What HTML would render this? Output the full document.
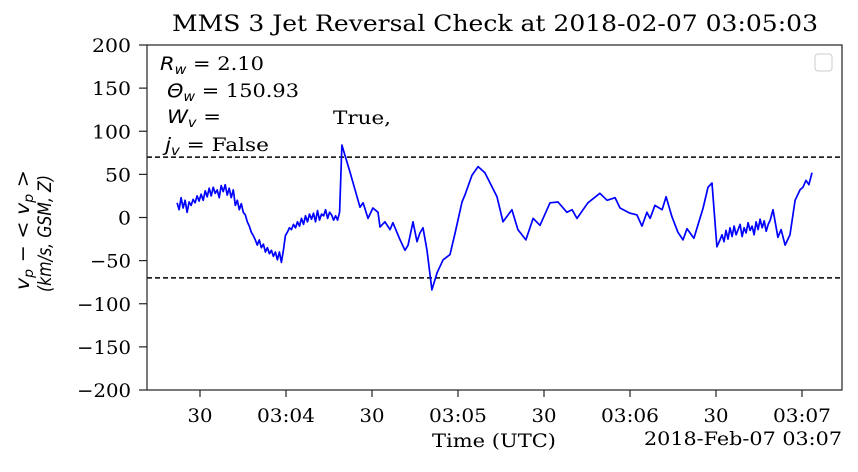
<!DOCTYPE html>
<html><head><meta charset="utf-8"><style>
html,body{margin:0;padding:0;background:#fff;}
svg text{font-family:"DejaVu Serif","Liberation Serif",serif;fill:#000;}
.m{font-family:"DejaVu Sans","Liberation Sans",sans-serif;font-style:italic;}
</style></head><body>
<svg id="chart" width="858" height="467" viewBox="0 0 858 467" xmlns="http://www.w3.org/2000/svg">
<text x="172" y="31" font-size="22" textLength="646" lengthAdjust="spacingAndGlyphs">MMS 3 Jet Reversal Check at 2018-02-07 03:05:03</text>
<g id="axes"></g>
<g id="series"></g>
<rect x="147" y="45" width="695" height="345" fill="none" stroke="#222" stroke-width="1.2"/>
<rect x="815" y="54" width="17" height="17" rx="3" fill="#fff" stroke="#ccc"/>
<g font-size="19">
<text x="160" y="70" textLength="104" lengthAdjust="spacingAndGlyphs"><tspan class="m">R</tspan><tspan class="m" font-size="13" dy="4">w</tspan><tspan dy="-4"> = 2.10</tspan></text>
<text x="167" y="97" textLength="132" lengthAdjust="spacingAndGlyphs"><tspan class="m" font-style="normal">Θ</tspan><tspan class="m" font-size="13" dy="4">w</tspan><tspan dy="-4"> = 150.93</tspan></text>
<text x="167" y="123" textLength="54" lengthAdjust="spacingAndGlyphs"><tspan class="m">W</tspan><tspan class="m" font-size="13" dy="4">v</tspan><tspan dy="-4"> =</tspan></text>
<text x="333" y="124" textLength="58" lengthAdjust="spacingAndGlyphs">True,</text>
<text x="165" y="151" textLength="104" lengthAdjust="spacingAndGlyphs"><tspan class="m">j</tspan><tspan class="m" font-size="13" dy="4">v</tspan><tspan dy="-4"> = False</tspan></text>
</g>
<text x="432" y="447" font-size="19" textLength="124" lengthAdjust="spacingAndGlyphs">Time (UTC)</text>
<text x="644" y="445" font-size="19" textLength="198" lengthAdjust="spacingAndGlyphs">2018-Feb-07 03:07</text>
<g transform="translate(29,230) rotate(-90)" font-size="19">
<text x="-60" y="0" textLength="120" lengthAdjust="spacingAndGlyphs" class="m">v<tspan font-size="13" dy="4">p</tspan><tspan dy="-4"> − &lt; v</tspan><tspan font-size="13" dy="4">p</tspan><tspan dy="-4"> &gt;</tspan></text>
<text x="-62" y="22" textLength="117" lengthAdjust="spacingAndGlyphs" class="m">(km/s, GSM, Z)</text>
</g>
</svg>
<script>
const yTicks=[200,150,100,50,0,-50,-100,-150,-200];
const xTickTimes=[30,60,90,120,150,180,210,240];
const xTickLabels=["30","03:04","30","03:05","30","03:06","30","03:07"];
const thresholds=[70,-70];
const noisyT1=[22.0,22.7,23.4,24.1,24.8,25.5,26.2,26.9,27.6,28.3,29.0,29.7,30.4,31.1,31.8,32.5,33.2,33.9,34.6,35.3,36.0,36.7,37.4,38.1,38.8,39.5,40.2,40.9,41.6,42.3,43.0,43.7,44.4,45.1,45.8,46.5,47.2,47.9,48.6,49.3,50.0,50.7,51.4,52.1,52.8,53.5,54.2,54.9,55.6,56.3,57.0,57.7,58.4,59.1,59.8,60.5,61.2,61.9,62.6,63.3,64.0,64.7,65.4,66.1,66.8,67.5,68.2,68.9,69.6,70.3,71.0,71.7,72.4,73.1,73.8,74.5,75.2,75.9,76.6,77.3,78.0,78.7];
const noisyV1=[17,9,23,11,20,6,18,14,21,17,25,19,27,20,31,24,34,25,35,28,32,23,37,30,38,26,34,23,32,14,20,9,16,6,3,-5,-10,-17,-21,-26,-32,-26,-35,-31,-40,-35,-42,-38,-45,-40,-49,-40,-52,-38,-21,-17,-12,-14,-8,-12,-5,-10,-1,-8,2,-5,4,-2,5,-5,8,-3,4,2,9,-1,6,3,-3,2,-3,6];
const midT=[79.5,82.3,85.8,86.9,88.6,90.3,92.1,92.8,94.5,96.3,97.3,99.8,101.5,102.6,104.3,105.7,106.7,107.8,109.2,110.9,112.7,114.8,117.2,119.0,121.4,122.4,124.9,127.0,129.4,131.2,133.6,135.7,138.8,140.9,143.7,146.2,148.6,152.1,154.9,158.0,159.8,161.5,165.3,169.5,172.0,174.8,176.5,180.0,182.4,184.2,185.9,187.0,188.7,191.2,192.6,194.6,196.7,198.5,199.9,202.3,205.5,207.2,208.6,210.3,211.4];
const midV=[84,53,12,17,-1,11,6,-11,-5,-14,-6,-26,-38,-32,-5,-28,-18,-12,-38,-84,-64,-49,-43,-18,18,26,49,59,52,40,24,-5,9,-14,-26,-1,-9,17,18,6,9,-1,17,28,20,23,11,5,3,-10,6,-1,14,9,24,1,-17,-26,-13,-24,11,35,40,-34,-26];
const noisyT2=[212.1,212.8,213.5,214.2,214.9,215.6,216.3,217.0,217.7,218.4,219.1,219.8,220.5,221.2,221.9,222.6,223.3,224.0,224.7,225.4,226.1,226.8,227.5,228.2,228.9];
const noisyV2=[-20,-28,-15,-25,-12,-22,-10,-20,-14,-8,-22,-12,-18,-6,-15,-10,-20,-5,-14,-2,-12,-4,-16,-8,-3];
const endT=[229.9,231.6,232.7,234.1,235.8,237.6,239.3,240.3,241.4,242.4,243.5];
const endV=[9,-23,-14,-32,-20,20,32,35,43,38,52];

const NS='http://www.w3.org/2000/svg';
const L=147,R=842,T=45,B=390;
const xS=t=>200+(t-30)*86/30;
const yS=v=>T+(200-v)*(B-T)/400;
const axes=document.getElementById('axes');
const ser=document.getElementById('series');
function mk(tag,attrs,parent){const e=document.createElementNS(NS,tag);for(const k in attrs)e.setAttribute(k,attrs[k]);parent.appendChild(e);return e;}
yTicks.forEach(v=>{
  const y=yS(v);
  const l=mk('line',{x1:L-8,x2:L,y1:y,y2:y,stroke:'#222','stroke-width':1.2},axes);
  
  
  const s=v<0?'\u2212'+(-v):String(v);
  const digits=String(Math.abs(v)).length;
  const w=digits*13+(v<0?15:0);
  const t=mk('text',{x:131,y:y+7,'font-size':19,'text-anchor':'end',textLength:w,lengthAdjust:'spacingAndGlyphs'},axes);
  t.textContent=s;
  
  
});
xTickTimes.forEach((s,i)=>{
  const x=xS(s);
  const l=mk('line',{x1:x,x2:x,y1:B,y2:B+7,stroke:'#222','stroke-width':1.2},axes);
  
  
  const lab=xTickLabels[i];
  const w=lab.length===2?25:58;
  const t=mk('text',{x:x-w/2,y:422,'font-size':19,textLength:w,lengthAdjust:'spacingAndGlyphs'},axes);
  t.textContent=lab;
  
  
});
thresholds.forEach(v=>{
  const l=mk('line',{x1:L,x2:R,y1:yS(v),y2:yS(v),stroke:'#000','stroke-width':1.4,'stroke-dasharray':'5,3'},ser);
  
  
});
const ts=noisyT1.concat(midT,noisyT2,endT);
const vs=noisyV1.concat(midV,noisyV2,endV);
const d=ts.map((t,i)=>(i?'L':'M')+xS(t).toFixed(1)+','+yS(vs[i]).toFixed(1)).join('');
const p=mk('path',{d:d,fill:'none',stroke:'#0000ff','stroke-width':1.7,'stroke-linejoin':'round'},ser);


</script>
</body></html>
